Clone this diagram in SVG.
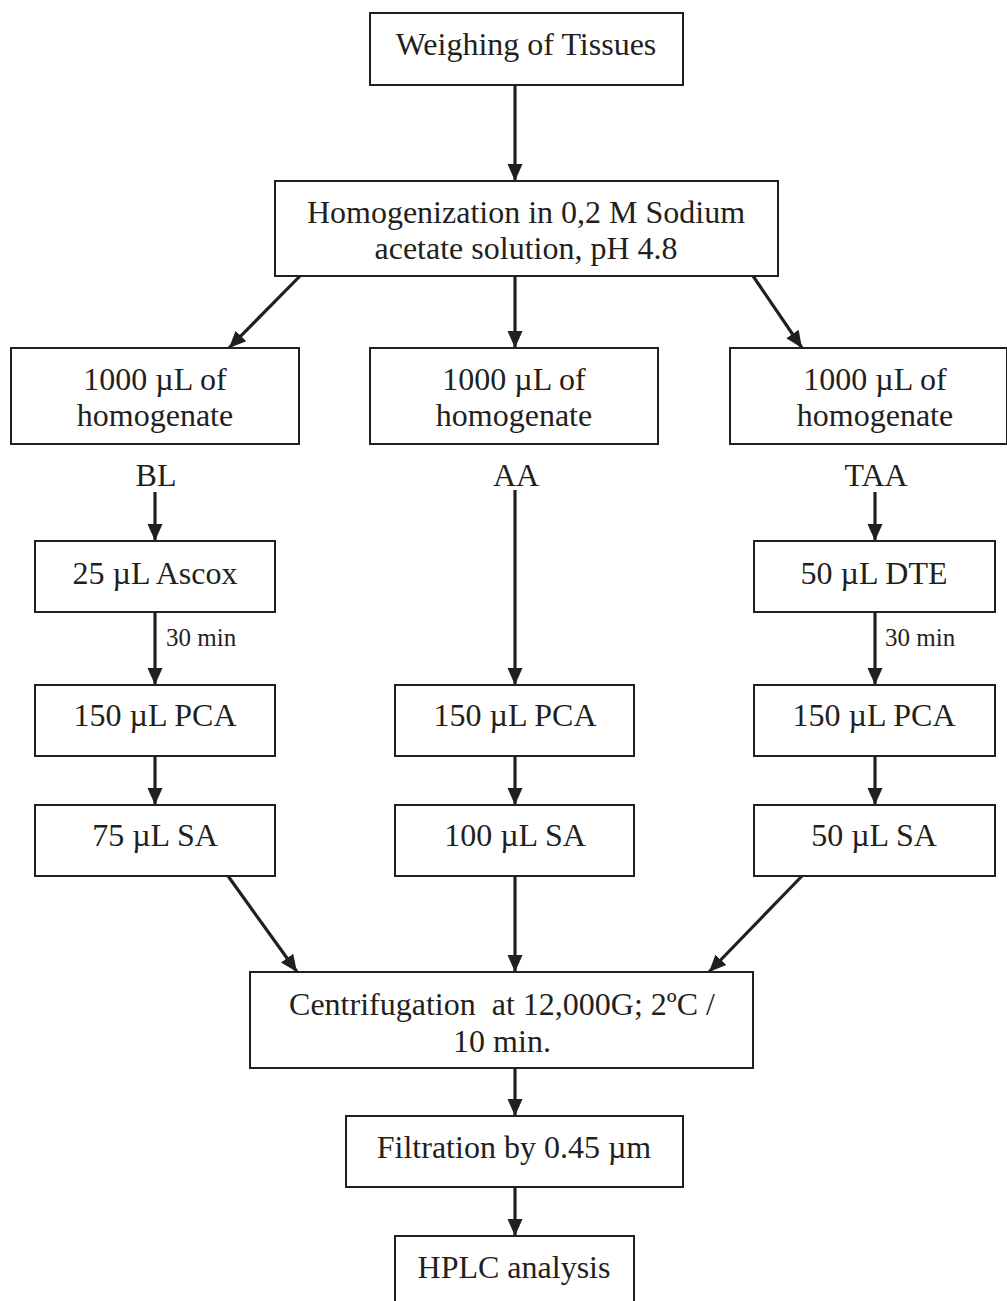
<svg xmlns="http://www.w3.org/2000/svg" width="1007" height="1301" viewBox="0 0 1007 1301">
<style>
.box{fill:#fff;stroke:#231f20;stroke-width:2}
.t{font-family:"Liberation Serif","Times New Roman",serif;font-size:32px;fill:#231f20;text-anchor:middle}
.s{font-family:"Liberation Serif","Times New Roman",serif;font-size:25px;fill:#231f20}
.c{stroke:#231f20;stroke-width:3.2;fill:none;marker-end:url(#ah)}
</style>
<defs>
<marker id="ah" markerUnits="userSpaceOnUse" markerWidth="18" markerHeight="18" viewBox="0 0 18 18" refX="17" refY="9" orient="auto">
<path d="M0,1.5 L17,9 L0,16.5 z" fill="#231f20"/>
</marker>
</defs>
<rect width="1007" height="1301" fill="#fff"/>
<g id="connectors">
<line class="c" x1="515" y1="85" x2="515" y2="181"/>
<line class="c" x1="300" y1="276" x2="229" y2="348"/>
<line class="c" x1="515" y1="276" x2="515" y2="348"/>
<line class="c" x1="753" y1="276" x2="802" y2="348"/>
<line class="c" x1="155" y1="492" x2="155" y2="541"/>
<line class="c" x1="515" y1="490" x2="515" y2="685"/>
<line class="c" x1="875" y1="492" x2="875" y2="541"/>
<line class="c" x1="155" y1="612" x2="155" y2="685"/>
<line class="c" x1="875" y1="612" x2="875" y2="685"/>
<line class="c" x1="155" y1="756" x2="155" y2="805"/>
<line class="c" x1="515" y1="756" x2="515" y2="805"/>
<line class="c" x1="875" y1="756" x2="875" y2="805"/>
<line class="c" x1="228" y1="876" x2="297" y2="972"/>
<line class="c" x1="515" y1="876" x2="515" y2="972"/>
<line class="c" x1="802" y1="876" x2="709" y2="972"/>
<line class="c" x1="515" y1="1068" x2="515" y2="1116"/>
<line class="c" x1="515" y1="1187" x2="515" y2="1236"/>
</g>
<g id="n-weigh"><rect class="box" x="370" y="13" width="313" height="72"/><text class="t" x="526" y="55">Weighing of Tissues</text></g>
<g id="n-homog"><rect class="box" x="275" y="181" width="503" height="95"/><text class="t" x="526" y="223">Homogenization in 0,2 M Sodium</text><text class="t" x="526" y="259">acetate solution, pH 4.8</text></g>
<g id="n-h1"><rect class="box" x="11" y="348" width="288" height="96"/><text class="t" x="155" y="390">1000 µL of</text><text class="t" x="155" y="426">homogenate</text></g>
<g id="n-h2"><rect class="box" x="370" y="348" width="288" height="96"/><text class="t" x="514" y="390">1000 µL of</text><text class="t" x="514" y="426">homogenate</text></g>
<g id="n-h3"><rect class="box" x="730" y="348" width="277" height="96"/><text class="t" x="875" y="390">1000 µL of</text><text class="t" x="875" y="426">homogenate</text></g>
<g id="l-bl"><text class="t" x="156" y="486">BL</text></g>
<g id="l-aa"><text class="t" x="516" y="486">AA</text></g>
<g id="l-taa"><text class="t" x="876" y="486">TAA</text></g>
<g id="n-ascox"><rect class="box" x="35" y="541" width="240" height="71"/><text class="t" x="155" y="584">25 µL Ascox</text></g>
<g id="n-dte"><rect class="box" x="754" y="541" width="241" height="71"/><text class="t" x="874" y="584">50 µL DTE</text></g>
<text class="s" x="166" y="646">30 min</text>
<text class="s" x="885" y="646">30 min</text>
<g id="n-pca1"><rect class="box" x="35" y="685" width="240" height="71"/><text class="t" x="155" y="726">150 µL PCA</text></g>
<g id="n-pca2"><rect class="box" x="395" y="685" width="239" height="71"/><text class="t" x="515" y="726">150 µL PCA</text></g>
<g id="n-pca3"><rect class="box" x="754" y="685" width="241" height="71"/><text class="t" x="874" y="726">150 µL PCA</text></g>
<g id="n-sa1"><rect class="box" x="35" y="805" width="240" height="71"/><text class="t" x="155" y="846">75 µL SA</text></g>
<g id="n-sa2"><rect class="box" x="395" y="805" width="239" height="71"/><text class="t" x="515" y="846">100 µL SA</text></g>
<g id="n-sa3"><rect class="box" x="754" y="805" width="241" height="71"/><text class="t" x="874" y="846">50 µL SA</text></g>
<g id="n-cent"><rect class="box" x="250" y="972" width="503" height="96"/><text class="t" x="502" y="1015" xml:space="preserve">Centrifugation  at 12,000G; 2ºC /</text><text class="t" x="502" y="1052">10 min.</text></g>
<g id="n-filt"><rect class="box" x="346" y="1116" width="337" height="71"/><text class="t" x="514" y="1158">Filtration by 0.45 µm</text></g>
<g id="n-hplc"><rect class="box" x="395" y="1236" width="239" height="75"/><text class="t" x="514" y="1278">HPLC analysis</text></g>
</svg>
